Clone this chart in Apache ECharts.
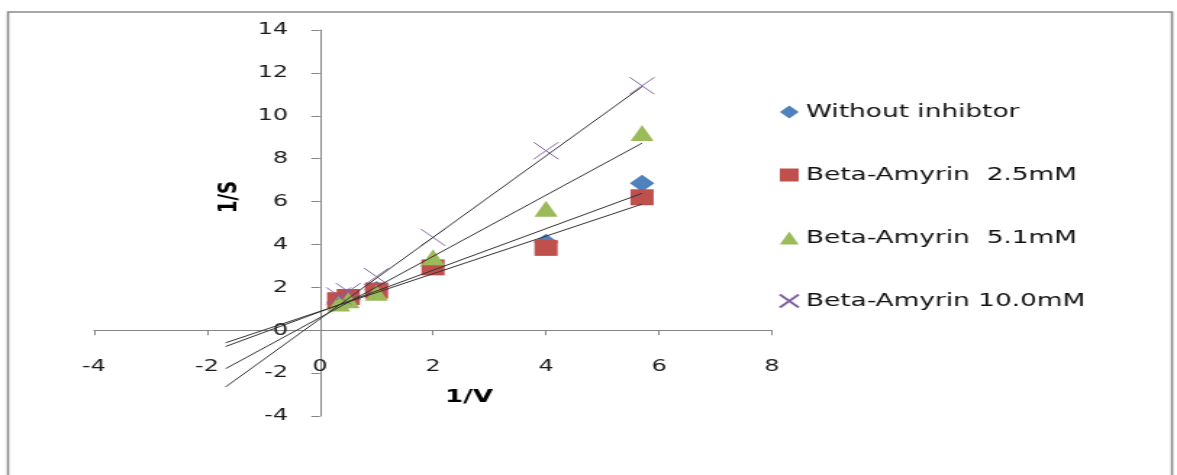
<!DOCTYPE html>
<html>
<head>
<meta charset="utf-8">
<script src="https://cdn.jsdelivr.net/npm/echarts@6/dist/echarts.min.js"></script>
<style>
  html, body { margin: 0; padding: 0; background: #ffffff; overflow: hidden; }
  #wrap { width: 1177px; height: 475px; overflow: hidden; }
  #c { width: 812px; height: 475px; transform: scaleX(1.449507); transform-origin: 0 0; }
</style>
</head>
<body>
<div id="wrap"><div id="c"></div></div>
<script>
// ---- data ----
const xValues = [0.33, 0.5, 1, 2, 4, 5.7];
const seriesNames = ['Without inhibtor', 'Beta-Amyrin  2.5mM', 'Beta-Amyrin  5.1mM', 'Beta-Amyrin 10.0mM'];
const withoutInhibitor = [1.3, 1.45, 1.9, 3.0, 4.1, 6.85];
const amyrin25 = [1.4, 1.55, 1.85, 2.93, 3.84, 6.2];
const amyrin51 = [1.25, 1.4, 1.75, 3.4, 5.67, 9.2];
const amyrin100 = [1.6, 1.8, 2.5, 4.33, 8.37, 11.4];
// linear trendlines (Excel style, backward forecast of 2 units)
const trendSlopes = [0.969, 0.877, 1.427, 1.90];
const trendIntercepts = [0.86, 0.88, 0.59, 0.53];
const trendBackward = 2;
// axes
const xMin = -4, xMax = 8, xStep = 2;
const yMin = -4, yMax = 14, yStep = 2;
const xTitle = '1/V';
const yTitle = '1/S';

// ---- styling / layout ----
const W = 812, H = 475;
const S = 1177 / W; // horizontal stretch of the original picture
const gridLeft = 94 / S, gridRight = W - 772 / S, gridTop = 30, gridBottom = 59;
const gridW = W - gridLeft - gridRight, gridH = H - gridTop - gridBottom;
// axes cross at zero (like the original): shift them inward from the grid edges
const xAxisOffset = -((0 - yMin) / (yMax - yMin)) * gridH;
const yAxisOffset = -((0 - xMin) / (xMax - xMin)) * gridW;

const colors = ['#4F81BD', '#C0504D', '#9BBB59', '#8064A2'];
const symbols = ['diamond', 'rect', 'triangle', 'path://M0,0L10,10M10,0L0,10'];
const sizes = [[17, 17], [16, 16], [16, 16], [17, 17]];
const allY = [withoutInhibitor, amyrin25, amyrin51, amyrin100];
const font = 'DejaVu Sans';

const scatterSeries = allY.map((ys, i) => ({
  name: seriesNames[i],
  type: 'scatter',
  symbol: symbols[i],
  symbolSize: sizes[i],
  data: xValues.map((x, k) => [x, ys[k]]),
  itemStyle: i === 3
    ? { color: 'rgba(0,0,0,0)', borderColor: colors[i], borderWidth: 1, opacity: 1 }
    : { color: colors[i], opacity: 1 },
  z: 2 + i * 0.1,
  silent: true
}));

const tx0 = Math.min(...xValues) - trendBackward;
const tx1 = Math.max(...xValues);
const trendSeries = trendSlopes.map((b, i) => ({
  name: 'trend' + i,
  type: 'line',
  data: [[tx0, trendIntercepts[i] + b * tx0], [tx1, trendIntercepts[i] + b * tx1]],
  showSymbol: false,
  symbol: 'none',
  lineStyle: { color: '#333333', width: 1 },
  z: 5,
  silent: true,
  animation: false
}));

const chart = echarts.init(document.getElementById('c'), null, { renderer: 'canvas' });
chart.setOption({
  animation: false,
  backgroundColor: '#ffffff',
  grid: {
    left: gridLeft, right: gridRight, top: gridTop, bottom: gridBottom,
    containLabel: false, outerBoundsMode: 'none'
  },
  xAxis: {
    type: 'value', min: xMin, max: xMax, interval: xStep,
    position: 'bottom', offset: xAxisOffset,
    axisLine: { onZero: false, lineStyle: { color: '#868686', width: 1 } },
    axisTick: { show: true, inside: false, length: 5, lineStyle: { color: '#868686' } },
    axisLabel: { margin: 28, fontFamily: font, fontSize: 16.5, color: '#1a1a1a' },
    splitLine: { show: false }
  },
  yAxis: {
    type: 'value', min: yMin, max: yMax, interval: yStep,
    position: 'left', offset: yAxisOffset,
    axisLine: { show: true, onZero: false, lineStyle: { color: '#868686', width: 1 } },
    axisTick: { show: true, inside: false, length: 6, lineStyle: { color: '#868686' } },
    axisLabel: { margin: 22, fontFamily: font, fontSize: 16.5, color: '#1a1a1a' },
    splitLine: { show: false }
  },
  legend: {
    data: seriesNames,
    orient: 'vertical',
    left: 532,
    top: 97,
    itemWidth: 13,
    itemHeight: 13,
    itemGap: 43,
    selectedMode: false,
    textStyle: { fontFamily: font, fontSize: 18.2, color: '#111111', lineHeight: 20 }
  },
  graphic: [
    {
      type: 'rect',
      shape: { x: 8 / S, y: 12, width: (1172 - 8) / S, height: 520 },
      style: { fill: 'none', stroke: '#8a8a8a', lineWidth: 1.6 },
      silent: true, z: 0
    },
    {
      type: 'text',
      x: 469 / S, y: 397,
      style: {
        text: xTitle, font: 'bold 18px "DejaVu Sans"', fill: '#000000',
        align: 'center', verticalAlign: 'middle',
        textAlign: 'center', textVerticalAlign: 'middle'
      },
      silent: true
    },
    {
      type: 'text',
      x: 230 / S, y: 197,
      rotation: Math.PI / 2,
      style: {
        text: yTitle, font: 'bold 18px "DejaVu Sans"', fill: '#000000',
        align: 'center', verticalAlign: 'middle',
        textAlign: 'center', textVerticalAlign: 'middle'
      },
      silent: true
    }
  ],
  series: scatterSeries.concat(trendSeries)
});
</script>
</body>
</html>
